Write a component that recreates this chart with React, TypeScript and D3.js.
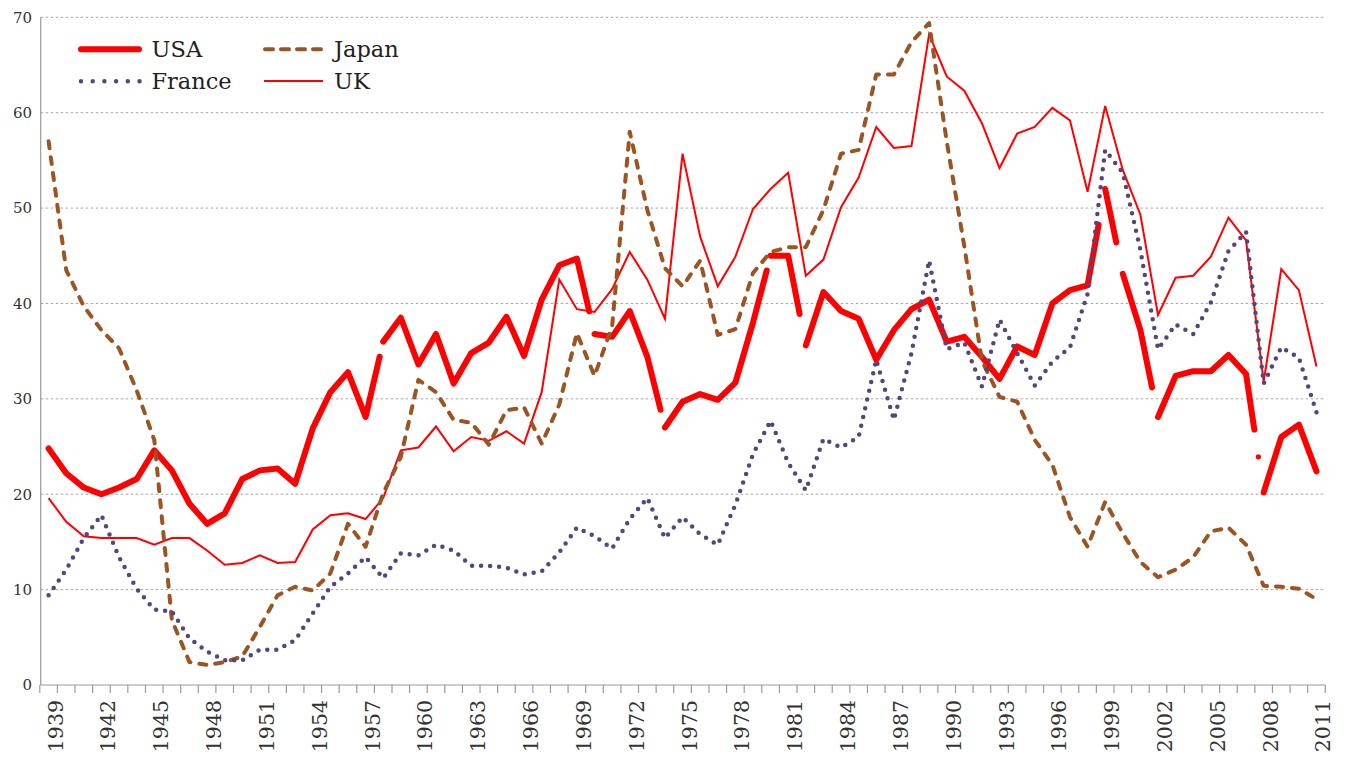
import React from "react";
import * as d3 from "d3";

const years: number[] = d3.range(1939, 2012);

const usa: number[] = [
  24.8, 22.2, 20.7, 20.0, 20.7, 21.6, 24.6, 22.5, 19.0, 16.9,
  18.0, 21.6, 22.5, 22.7, 21.1, 26.9, 30.7, 32.8, 28.1, 36.0,
  38.5, 33.6, 36.8, 31.6, 34.8, 35.9, 38.6, 34.5, 40.4, 44.0,
  44.7, 36.8, 36.5, 39.2, 34.4, 27.0, 29.7, 30.5, 29.9, 31.7,
  38.0, 45.0, 45.0, 35.6, 41.2, 39.2, 38.4, 34.1, 37.2, 39.4,
  40.4, 36.0, 36.5, 34.4, 32.1, 35.5, 34.6, 40.0, 41.4, 41.9,
  52.0, 43.1, 37.2, 28.1, 32.4, 32.9, 32.9, 34.6, 32.6, 20.2,
  26.0, 27.3, 22.4,
];

const japan: number[] = [
  57.0, 43.5, 39.7, 37.2, 35.3, 30.9, 25.7, 6.8, 2.4, 2.1,
  2.4, 3.0, 6.1, 9.4, 10.3, 9.9, 11.7, 16.9, 14.5, 20.1,
  23.9, 32.0, 30.7, 27.8, 27.5, 25.2, 28.8, 29.1, 25.3, 29.4,
  36.9, 32.4, 37.6, 58.0, 49.8, 43.7, 41.8, 44.5, 36.7, 37.3,
  43.2, 45.4, 45.9, 45.9, 49.8, 55.7, 56.1, 64.0, 64.0, 67.4,
  69.4, 57.0, 46.0, 34.0, 30.2, 29.7, 25.7, 23.1, 17.6, 14.5,
  19.2, 15.9, 12.9, 11.3, 12.1, 13.4, 16.1, 16.5, 14.7, 10.4,
  10.3, 10.1, 9.0,
];

const france: number[] = [
  9.4, 12.1, 15.4, 17.8, 13.4, 10.1, 7.9, 7.7, 4.9, 3.5,
  2.6, 2.6, 3.7, 3.7, 4.7, 7.5, 10.3, 11.7, 13.4, 11.2,
  13.8, 13.6, 14.7, 14.1, 12.5, 12.5, 12.3, 11.6, 11.9, 13.9,
  16.5, 15.6, 14.3, 17.4, 19.6, 15.4, 17.6, 15.8, 14.7, 18.9,
  24.2, 27.7, 23.3, 20.4, 25.8, 24.9, 26.0, 34.1, 27.8, 34.8,
  44.5, 35.2, 35.9, 31.3, 38.3, 34.8, 31.4, 33.9, 35.4, 41.0,
  56.1, 53.7, 45.6, 35.2, 37.8, 36.8, 40.1, 45.5, 47.5, 31.6,
  35.4, 34.3, 28.6,
];

const uk: number[] = [
  19.6, 17.1, 15.6, 15.4, 15.4, 15.4, 14.7, 15.4, 15.4, 14.1,
  12.6, 12.8, 13.6, 12.8, 12.9, 16.3, 17.8, 18.0, 17.4, 19.6,
  24.6, 24.9, 27.1, 24.5, 26.0, 25.6, 26.6, 25.3, 30.7, 42.5,
  39.4, 39.1, 41.5, 45.4, 42.5, 38.4, 55.7, 47.0, 41.8, 44.9,
  49.9, 52.0, 53.7, 42.9, 44.6, 50.1, 53.2, 58.5, 56.3, 56.5,
  68.2, 63.8, 62.3, 58.9, 54.2, 57.8, 58.5, 60.5, 59.2, 51.7,
  60.7, 54.0, 49.3, 38.8, 42.7, 42.9, 44.9, 49.0, 46.6, 31.8,
  43.6, 41.4, 33.4,
];

// years after which the USA line is interrupted (series breaks)
const usaBreakYears: number[] = [1957, 1969, 1973, 1979, 1981, 1998, 1999, 2001, 2007];
const usaDotAfterYear = 2007;

const yTicks: number[] = [0, 10, 20, 30, 40, 50, 60, 70];
const xLabelYears: number[] = d3.range(1939, 2012, 3);

// style-only: how far each interrupted segment is drawn
const breakFrac: number[] = [0.8, 0.7, 0.75, 0.78, 0.65, 0.63, 0.63, 0.66, 0.47];

const RED = "#ff0000";
const BROWN = "#9a5523";
const PURPLE = "#54457f";
const FONT = "'DejaVu Serif', 'Liberation Serif', serif";

export default function App() {
  const W = 1346;
  const H = 760;
  const x = d3.scaleBand<number>().domain(years).range([39.8, 1325.3]).padding(0);
  const bw = x.bandwidth();
  const cx = (yr: number) => (x(yr) as number) + bw / 2;
  const y = d3.scaleLinear().domain([0, 70]).range([685, 17.3]);

  type P = [number, number];
  const line = d3.line<P>().x((d) => d[0]).y((d) => d[1]);

  const toPts = (vals: number[]): P[] => years.map((yr, i) => [cx(yr), y(vals[i])]);

  const usaPts = toPts(usa);
  const runs: P[][] = [];
  let cur: P[] = [];
  let dot: P | null = null;
  usaPts.forEach((p, i) => {
    cur.push(p);
    const bi = usaBreakYears.indexOf(years[i]);
    if (bi >= 0 && i < usaPts.length - 1) {
      const q = usaPts[i + 1];
      const t = breakFrac[bi];
      cur.push([p[0] + (q[0] - p[0]) * t, p[1] + (q[1] - p[1]) * t]);
      runs.push(cur);
      cur = [];
      if (years[i] === usaDotAfterYear) {
        dot = [p[0] + (q[0] - p[0]) * 0.7, p[1] + (q[1] - p[1]) * 0.7];
      }
    }
  });
  if (cur.length) runs.push(cur);

  const boundaries = d3.range(0, years.length + 1).map((k) => 39.8 + k * bw);

  return (
    <svg
      width={W}
      height={H}
      style={{ position: "absolute", left: 0, top: 0, background: "#fff" }}
      fontFamily={FONT}
    >
      {/* gridlines */}
      {yTicks.filter((t) => t > 0).map((t) => (
        <line key={t} x1={40.7} x2={1325.3} y1={y(t)} y2={y(t)} stroke="#a6a6a6" strokeWidth={1} strokeDasharray="2.5 2.5" />
      ))}
      {/* axes */}
      <line x1={40.7} x2={40.7} y1={y(70)} y2={y(0)} stroke="#9a9a9a" strokeWidth={1.2} />
      <line x1={40.7} x2={1325.3} y1={y(0)} y2={y(0)} stroke="#9a9a9a" strokeWidth={1.2} />
      {boundaries.map((bx, k) => (
        <line key={k} x1={bx} x2={bx} y1={y(0)} y2={y(0) + 8} stroke="#9a9a9a" strokeWidth={1.2} />
      ))}
      {/* y labels */}
      {yTicks.map((t) => (
        <text key={t} x={32} y={y(t)} dy="0.36em" textAnchor="end" fontSize={15} fill="#333">
          {t}
        </text>
      ))}
      {/* x labels */}
      {xLabelYears.map((yr) => (
        <text
          key={yr}
          transform={`translate(${cx(yr) + 14},700) rotate(-90)`}
          textAnchor="end"
          fontSize={20.5}
          fill="#333"
        >
          {yr}
        </text>
      ))}

      {/* series */}
      {runs.map((r, i) => (
        <path key={i} d={line(r) || ""} fill="none" stroke={RED} strokeWidth={6} strokeLinejoin="round" strokeLinecap="round" />
      ))}
      {dot && <circle cx={(dot as P)[0]} cy={(dot as P)[1]} r={2.6} fill={RED} />}
      <path d={line(toPts(uk)) || ""} fill="none" stroke={RED} strokeWidth={2} strokeLinejoin="miter" />
      <path d={line(toPts(japan)) || ""} fill="none" stroke={BROWN} strokeWidth={4} strokeDasharray="7 9" strokeLinecap="round" strokeLinejoin="round" />
      <path d={line(toPts(france)) || ""} fill="none" stroke={PURPLE} strokeWidth={4.5} strokeDasharray="0 9" strokeLinecap="round" strokeLinejoin="round" />

      {/* legend */}
      <line x1={81} x2={139} y1={49.3} y2={49.3} stroke={RED} strokeWidth={6} strokeLinecap="round" />
      <text x={151.5} y={57} fontSize={22.5} fill="#222">USA</text>
      <line x1={265} x2={323} y1={49.3} y2={49.3} stroke={BROWN} strokeWidth={4} strokeDasharray="8 8" strokeLinecap="round" />
      <text x={334} y={57} fontSize={22.5} fill="#222">Japan</text>
      <line x1={81} x2={141} y1={81.3} y2={81.3} stroke={PURPLE} strokeWidth={4.5} strokeDasharray="0 11.7" strokeLinecap="round" />
      <text x={151.5} y={89} fontSize={22.5} fill="#222">France</text>
      <line x1={264} x2={323} y1={81} y2={81} stroke={RED} strokeWidth={2} />
      <text x={334} y={89} fontSize={22.5} fill="#222">UK</text>
    </svg>
  );
}
